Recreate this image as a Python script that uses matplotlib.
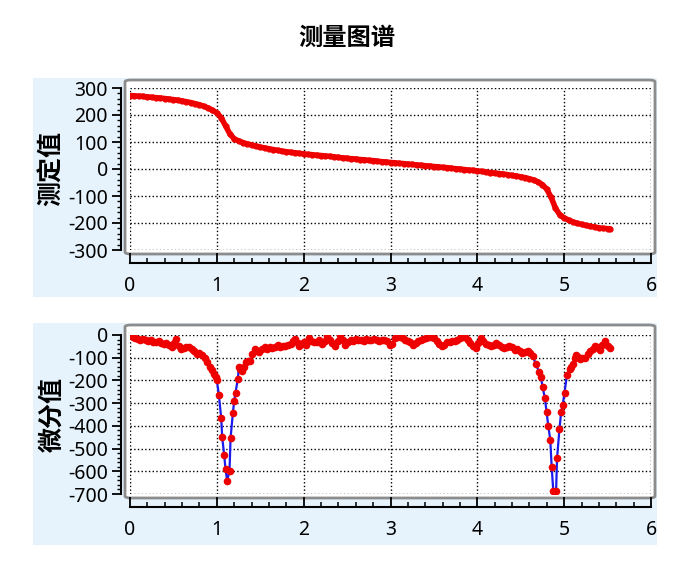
import matplotlib.pyplot as plt
from matplotlib.patches import Rectangle, FancyBboxPatch
from matplotlib.ticker import MultipleLocator

plt.rcParams['font.family'] = ['Noto Sans CJK SC', 'DejaVu Sans']
plt.rcParams['axes.unicode_minus'] = False

# measured curve (volume, value)
vol_meas = [0.00, 0.05, 0.10, 0.15, 0.20, 0.25, 0.30, 0.35, 0.40, 0.45, 0.50, 0.55,
            0.60, 0.65, 0.70, 0.75, 0.80, 0.85, 0.90, 0.95, 1.00, 1.05, 1.10, 1.15,
            1.20, 1.25, 1.30, 1.35, 1.40, 1.45, 1.50, 1.55, 1.60, 1.65, 1.70, 1.75,
            1.80, 1.85, 1.90, 1.95, 2.00, 2.05, 2.10, 2.15, 2.20, 2.25, 2.30, 2.35,
            2.40, 2.45, 2.50, 2.55, 2.60, 2.65, 2.70, 2.75, 2.80, 2.85, 2.90, 2.95,
            3.00, 3.05, 3.10, 3.15, 3.20, 3.25, 3.30, 3.35, 3.40, 3.45, 3.50, 3.55,
            3.60, 3.65, 3.70, 3.75, 3.80, 3.85, 3.90, 3.95, 4.00, 4.05, 4.10, 4.15,
            4.20, 4.25, 4.30, 4.35, 4.40, 4.45, 4.50, 4.55, 4.60, 4.65, 4.70, 4.75,
            4.80, 4.85, 4.90, 4.95, 5.00, 5.05, 5.10, 5.15, 5.20, 5.25, 5.30, 5.35,
            5.40, 5.45, 5.50, 5.53]
val_meas = [272, 271, 270, 269, 267, 266, 264, 263, 261, 259, 257, 255,
            252, 249, 246, 242, 238, 232, 226, 218, 208, 190, 160, 130,
            112, 104, 98, 93, 89, 85, 81, 78, 75, 72, 69, 66,
            64, 62, 60, 58, 56, 54, 53, 51, 50, 48, 47, 45,
            43, 41, 40, 38, 37, 35, 34, 32, 31, 29, 27, 26,
            24, 23, 21, 20, 18, 17, 15, 14, 12, 11, 9, 8,
            6, 5, 3, 1, 0, -2, -4, -5, -7, -9, -11, -13,
            -15, -17, -19, -21, -24, -26, -29, -32, -36, -41, -48, -58,
            -75, -105, -145, -170, -181, -189, -196, -201, -205, -209, -212, -215,
            -218, -220, -221, -222]

# derivative curve
vol_diff = [0.00, 0.03, 0.06, 0.09, 0.12, 0.15, 0.18, 0.21, 0.24, 0.27, 0.30, 0.33,
            0.36, 0.39, 0.42, 0.45, 0.48, 0.51, 0.53, 0.56, 0.59, 0.62, 0.65, 0.68,
            0.71, 0.74, 0.77, 0.80, 0.83, 0.86, 0.89, 0.92, 0.95, 0.97, 0.99, 1.00,
            1.023, 1.05, 1.062, 1.085, 1.10, 1.119, 1.146, 1.158, 1.185, 1.20, 1.215, 1.242,
            1.254, 1.27, 1.29, 1.31, 1.34, 1.36, 1.385, 1.41, 1.435, 1.46, 1.49, 1.52,
            1.55, 1.58, 1.61, 1.64, 1.67, 1.70, 1.73, 1.76, 1.79, 1.82, 1.85, 1.88,
            1.90, 1.93, 1.95, 1.98, 2.00, 2.03, 2.06, 2.09, 2.12, 2.15, 2.18, 2.21,
            2.24, 2.27, 2.30, 2.33, 2.36, 2.39, 2.42, 2.45, 2.48, 2.51, 2.54, 2.57,
            2.60, 2.63, 2.66, 2.69, 2.72, 2.75, 2.78, 2.81, 2.84, 2.87, 2.90, 2.93,
            2.96, 2.99, 3.02, 3.05, 3.08, 3.11, 3.14, 3.17, 3.20, 3.23, 3.26, 3.29,
            3.32, 3.35, 3.38, 3.41, 3.44, 3.47, 3.50, 3.53, 3.56, 3.59, 3.62, 3.65,
            3.68, 3.71, 3.74, 3.77, 3.80, 3.83, 3.86, 3.89, 3.92, 3.95, 3.98, 4.01,
            4.04, 4.07, 4.10, 4.13, 4.16, 4.19, 4.22, 4.25, 4.28, 4.31, 4.34, 4.37,
            4.40, 4.43, 4.46, 4.49, 4.52, 4.55, 4.58, 4.61, 4.64, 4.673, 4.712, 4.732,
            4.751, 4.778, 4.798, 4.817, 4.840, 4.856, 4.875, 4.907, 4.918, 4.946, 4.965, 4.984,
            5.004, 5.031, 5.063, 5.08, 5.101, 5.12, 5.14, 5.16, 5.18, 5.21, 5.24, 5.27,
            5.30, 5.33, 5.35, 5.38, 5.41, 5.44, 5.47, 5.50, 5.53]
val_diff = [5, -10, -15, -18, -20, -19, -24, -26, -22, -30, -33, -28,
            -35, -38, -36, -45, -55, -35, -19, -50, -62, -58, -52, -55,
            -62, -70, -84, -78, -86, -100, -118, -140, -155, -170, -185, -200,
            -262, -364, -451, -529, -591, -642, -598, -454, -342, -291, -254, -193,
            -142, -150, -160, -140, -120, -115, -113, -85, -62, -70, -77, -62,
            -55, -60, -52, -58, -55, -45, -55, -48, -50, -42, -40, -28,
            -19, -35, -48, -38, -33, -42, -12, -25, -30, -33, -20, -38,
            -25, -5, -20, -35, -48, -25, -2, -20, -45, -30, -20, -25,
            -18, -22, -20, -25, -18, -20, -22, -18, -20, -25, -20, -22,
            -25, -45, -40, -15, -7, -10, -15, -20, -25, -32, -42, -35,
            -28, -20, -18, -12, -10, -8, -12, -25, -38, -50, -42, -32,
            -30, -28, -25, -20, -15, -10, -8, -20, -35, -50, -57, -35,
            -15, -25, -38, -45, -50, -42, -36, -45, -52, -57, -55, -50,
            -55, -64, -62, -70, -78, -75, -71, -80, -93, -128, -164, -185,
            -228, -278, -340, -400, -462, -580, -688, -688, -542, -413, -340, -307,
            -254, -178, -150, -140, -128, -100, -86, -95, -107, -100, -100, -85,
            -71, -60, -50, -55, -64, -45, -28, -50, -57]

W, H = 693, 574
fig = plt.figure(figsize=(W / 100, H / 100), dpi=100)

fig.text(0.5, 1 - 38 / H, '测量图谱', ha='center', va='center', fontsize=17.5, fontweight='bold')

# light blue panels
for top, bot in [(78, 297), (323, 545)]:
    fig.patches.append(Rectangle((33 / W, 1 - bot / H), (657 - 33) / W, (bot - top) / H,
                                 transform=fig.transFigure, facecolor='#e6f3fc',
                                 edgecolor='none', zorder=-5))


def setup(ax, ylim, ylabel, frame_top, frame_bot, y_top_px, y_bot_px, label_y):
    ax.set_xlim(0, 6)
    ax.set_ylim(*ylim)
    ax.set_facecolor('none')
    ax.xaxis.set_major_locator(MultipleLocator(1))
    ax.xaxis.set_minor_locator(MultipleLocator(0.2))
    ax.yaxis.set_major_locator(MultipleLocator(100))
    ax.yaxis.set_minor_locator(MultipleLocator(20))
    ax.spines['top'].set_visible(False)
    ax.spines['right'].set_visible(False)
    ax.spines['bottom'].set_position(('outward', 9))
    ax.spines['left'].set_position(('outward', 6.5))
    ax.spines['bottom'].set_linewidth(1.5)
    ax.spines['left'].set_linewidth(1.5)
    ax.tick_params(axis='x', which='major', direction='in', length=7, width=1.3,
                   labelsize=14, pad=10, labelfontfamily='Noto Sans')
    ax.tick_params(axis='x', which='minor', direction='in', length=3.5, width=1.1)
    ax.tick_params(axis='y', which='major', direction='out', length=6.5, width=1.3,
                   labelsize=14, pad=3, labelfontfamily='Noto Sans')
    ax.tick_params(axis='y', which='minor', direction='out', length=3, width=1)
    ax.grid(True, which='major', linestyle=':', color='black', linewidth=1)
    fig.text(52 / W, 1 - label_y / H, ylabel, rotation=90, ha='center', va='center',
             fontsize=18, fontweight='bold')
    # grey rounded frame around the plotting area
    h = y_bot_px - y_top_px
    fx0 = -5 / 521
    fy0 = -(frame_bot - y_bot_px) / h
    fw = 530 / 521
    fh = (frame_bot - frame_top) / h
    ax.add_patch(FancyBboxPatch((fx0, fy0), fw, fh, boxstyle='round,pad=0,rounding_size=0.012',
                                transform=ax.transAxes, facecolor='white', edgecolor='#8c8c8c',
                                linewidth=2, zorder=-1, clip_on=False))


ax1 = fig.add_axes([130 / W, 1 - 250 / H, 521 / W, 162 / H])
setup(ax1, (-300, 300), '测定值', 80, 254, 88, 250, 168)
ax1.plot(vol_meas, val_meas, color='#ee0000', linewidth=4, marker='o', markersize=3.5,
         solid_capstyle='round', zorder=3)

ax2 = fig.add_axes([130 / W, 1 - 494 / H, 521 / W, 159 / H])
setup(ax2, (-700, 0), '微分值', 325, 498, 335, 494, 415)
ax2.plot(vol_diff, val_diff, color='#1a1aee', linewidth=1.6, zorder=3)
ax2.plot(vol_diff, val_diff, linestyle='none', color='#ee0000', marker='o', markersize=5.5,
         markeredgewidth=0, zorder=4)

fig.savefig('out.png', dpi=100)
